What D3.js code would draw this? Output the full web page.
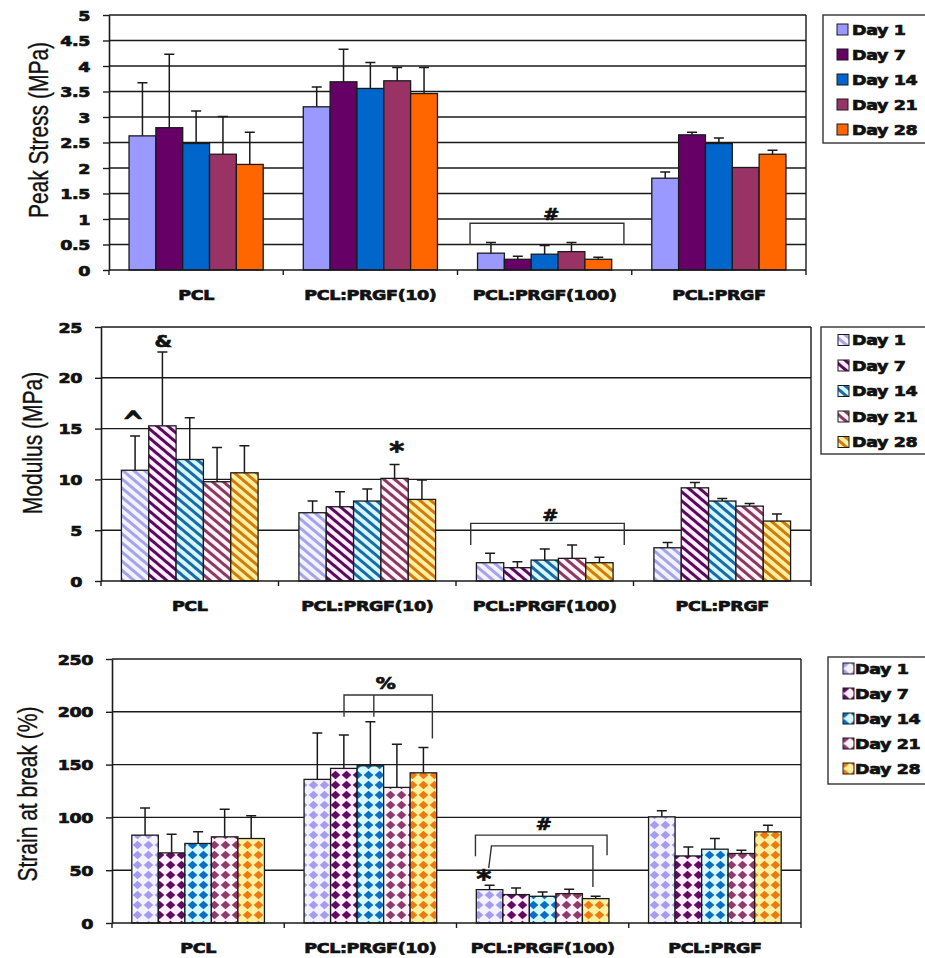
<!DOCTYPE html>
<html>
<head>
<meta charset="utf-8">
<script src="https://cdn.jsdelivr.net/npm/d3@7"></script>
<style>
  body { margin: 0; background: #fff; }
  svg { display: block; }
  .bold { font-family: 'DejaVu Sans', sans-serif; font-weight: bold; font-size: 14px; fill: #111;
          stroke: #111; stroke-width: 0.7px; letter-spacing: -0.3px; }
  .title { font-family: 'Liberation Sans', Arial, sans-serif; font-size: 21px; fill: #111;
           stroke: #111; stroke-width: 0.25px; }
</style>
</head>
<body>
<script>
// categories and series
let categories = ['PCL', 'PCL:PRGF(10)', 'PCL:PRGF(100)', 'PCL:PRGF'];
let days = ['Day 1', 'Day 7', 'Day 14', 'Day 21', 'Day 28'];
let dayColors = ['#9999ff', '#660066', '#0066cc', '#993366', '#ff6600'];
let stripeColors = ['#a4a4ea', '#5a0a5a', '#1a6aa8', '#8a3a60', '#d07a10'];
let diamondColors = ['#a49cf0', '#600a60', '#0a6ec4', '#8e3a6a', '#ec7a10'];
let tintColors = ['#f4f2ff', '#ffeeff', '#d6f8ff', '#fff2f8', '#fff0a0'];

// tick labels
let stressTicks = [0, 0.5, 1, 1.5, 2, 2.5, 3, 3.5, 4, 4.5, 5];
let modulusTicks = [0, 5, 10, 15, 20, 25];
let strainTicks = [0, 50, 100, 150, 200, 250];

// values, one row per day, one column per category
let stressMean = [[2.63, 3.20, 0.33, 1.80], [2.79, 3.69, 0.21, 2.65], [2.48, 3.56, 0.31, 2.48], [2.27, 3.71, 0.36, 2.01], [2.07, 3.46, 0.21, 2.27]];
let stressErr  = [[1.04, 0.39, 0.21, 0.12], [1.44, 0.64, 0.06, 0.05], [0.64, 0.51, 0.17, 0.11], [0.74, 0.26, 0.18, 0.00], [0.63, 0.51, 0.04, 0.08]];

let modulusMean = [[10.9, 6.72, 1.80, 3.27], [15.27, 7.31, 1.31, 9.17], [11.96, 7.87, 2.06, 7.87], [9.77, 10.1, 2.23, 7.37], [10.65, 8.03, 1.80, 5.90]];
let modulusErr  = [[3.36, 1.15, 0.92, 0.53], [7.28, 1.47, 0.59, 0.53], [4.10, 1.18, 1.09, 0.26], [3.38, 1.37, 1.31, 0.27], [2.65, 1.90, 0.53, 0.69]];

let strainMean = [[83.2, 136.0, 31.6, 100.5], [66.4, 146.4, 26.9, 63.5], [75.3, 148.9, 25.3, 69.9], [81.6, 128.4, 27.8, 65.8], [80.0, 142.2, 23.1, 86.3]];
let strainErr  = [[25.8, 44.0, 4.1, 5.7], [17.7, 31.6, 6.3, 8.5], [11.0, 41.7, 4.1, 10.1], [26.2, 40.8, 4.2, 3.2], [21.5, 24.1, 2.2, 6.3]];

// significance marks: category, fraction across category cell, value
let stressMarks = [{cat: 2, f: 0.537, v: 1.10, text: '#'}];
let stressBrackets = [{cat: 2, pts: [[0.072, 0.49], [0.072, 0.916], [0.955, 0.916], [0.955, 0.49]]}];
let modulusMarks = [
  {cat: 0, f: 0.18, v: 16.0, text: '^'},
  {cat: 0, f: 0.35, v: 23.6, text: '&'},
  {cat: 1, f: 0.666, v: 13.2, text: '*'},
  {cat: 2, f: 0.53, v: 6.5, text: '#'}
];
let modulusBrackets = [{cat: 2, pts: [[0.083, 3.54], [0.083, 5.67], [0.948, 5.67], [0.948, 3.54]]}];
let strainMarks = [
  {cat: 1, f: 0.589, v: 227.3, text: '%'},
  {cat: 2, f: 0.506, v: 93.6, text: '#'},
  {cat: 2, f: 0.158, v: 45.2, text: '*'}
];
let strainBrackets = [
  {cat: 1, pts: [[0.347, 195.3], [0.347, 215.9], [0.86, 215.9], [0.86, 174.8]]},
  {cat: 1, pts: [[0.52, 215.9], [0.52, 195.3]]},
  {cat: 2, pts: [[0.11, 63.2], [0.11, 83.2], [0.874, 83.2], [0.874, 64.2]]},
  {cat: 2, pts: [[0.187, 51.9], [0.203, 73], [0.792, 73], [0.792, 34.1]]}
];

let width = 925;
let height = 958;
let ink = '#1a1a1a';

let panels = [
  {mean: stressMean, err: stressErr, ticks: stressTicks, marks: stressMarks, brackets: stressBrackets,
   title: 'Peak Stress (MPa)', fill: 'solid',
   left: 109, right: 806, top: 15, bottom: 270, titleX: 38, titleY: 130,
   legX: 823, legY: 15, legH: 128, legFirst: 14.5, legStep: 25, swX: 14, txX: 29},
  {mean: modulusMean, err: modulusErr, ticks: modulusTicks, marks: modulusMarks, brackets: modulusBrackets,
   title: 'Modulus (MPa)', fill: 'stripe',
   left: 101, right: 811, top: 327, bottom: 581, titleX: 32, titleY: 443,
   legX: 821, legY: 327, legH: 127, legFirst: 13, legStep: 25.5, swX: 17, txX: 31},
  {mean: strainMean, err: strainErr, ticks: strainTicks, marks: strainMarks, brackets: strainBrackets,
   title: 'Strain at break (%)', fill: 'diamond',
   left: 112, right: 801, top: 659, bottom: 923, titleX: 27, titleY: 794,
   legX: 828, legY: 657, legH: 127, legFirst: 11.5, legStep: 25, swX: 15, txX: 27}
];

let svg = d3.select('body')
            .append('svg')
            .attr('width', width)
            .attr('height', height);

let defs = svg.append('defs');

// stripe and diamond fills, one per day
days.forEach((d, i) => {
    let sp = defs.append('pattern')
        .attr('id', 'stripe' + i)
        .attr('patternUnits', 'userSpaceOnUse')
        .attr('width', 7).attr('height', 7)
        .attr('patternTransform', 'rotate(40)');
    sp.append('rect').attr('width', 7).attr('height', 7).attr('fill', tintColors[i]);
    sp.append('rect').attr('width', 7).attr('height', 3).attr('fill', stripeColors[i]);

    let dp = defs.append('pattern')
        .attr('id', 'diamond' + i)
        .attr('patternUnits', 'userSpaceOnUse')
        .attr('width', 11).attr('height', 10);
    dp.append('rect').attr('width', 11).attr('height', 10).attr('fill', tintColors[i]);
    dp.append('path').attr('d', 'M5.5,0.8 L10.3,5 L5.5,9.2 L0.7,5 Z').attr('fill', diamondColors[i]);
});

let fillFor = (kind, i) => {
    if (kind == 'stripe') return 'url(#stripe' + i + ')';
    if (kind == 'diamond') return 'url(#diamond' + i + ')';
    return dayColors[i];
}

let glyphLift = {'#': 0.36, '%': 0.36, '&': 0.36, '^': 0.5, '*': 0.5};
let glyphSize = {'#': 16, '%': 16, '&': 16, '^': 30, '*': 24};
let glyphStretch = {'#': 1.2, '%': 1.25, '&': 1.25, '^': 0.9, '*': 1.2};

let drawPanel = (p) => {
    let g = svg.append('g');
    let maxV = p.ticks[p.ticks.length - 1];

    let x0 = d3.scaleBand()
                .domain(d3.range(categories.length))
                .range([p.left, p.right])
                .paddingInner(0.23)
                .paddingOuter(0.115);
    let x1 = d3.scaleBand()
                .domain(d3.range(days.length))
                .range([0, x0.bandwidth()]);
    let y = d3.scaleLinear()
                .domain([0, maxV])
                .range([p.bottom, p.top]);
    let cellX = (c, f) => p.left + (c + f) * x0.step();

    // gridlines
    g.selectAll('.grid')
        .data(p.ticks.slice(1))
        .enter()
        .append('line')
        .attr('x1', p.left).attr('x2', p.right)
        .attr('y1', d => y(d)).attr('y2', d => y(d))
        .attr('stroke', ink).attr('stroke-width', 1.4);

    // right border
    g.append('line')
        .attr('x1', p.right).attr('x2', p.right)
        .attr('y1', p.top).attr('y2', p.bottom)
        .attr('stroke', ink).attr('stroke-width', 1.4);

    // bars
    let rows = [];
    p.mean.forEach((row, d) => row.forEach((v, c) => rows.push({c: c, d: d, v: v, e: p.err[d][c]})));

    g.selectAll('.bar')
        .data(rows)
        .enter()
        .append('rect')
        .attr('x', r => x0(r.c) + x1(r.d))
        .attr('y', r => y(r.v))
        .attr('width', x1.bandwidth())
        .attr('height', r => y(0) - y(r.v))
        .attr('fill', r => fillFor(p.fill, r.d))
        .attr('stroke', ink)
        .attr('stroke-width', 1.3);

    // upper error bars
    let errRows = rows.filter(r => r.e > 0);
    let cx = r => x0(r.c) + x1(r.d) + x1.bandwidth() / 2;
    g.selectAll('.err')
        .data(errRows)
        .enter()
        .append('path')
        .attr('d', r => 'M' + cx(r) + ',' + y(r.v) + 'V' + y(r.v + r.e) + 'M' + (cx(r) - 5) + ',' + y(r.v + r.e) + 'H' + (cx(r) + 5))
        .attr('fill', 'none')
        .attr('stroke', ink)
        .attr('stroke-width', 1.5);

    // y axis
    let yAxis = d3.axisLeft(y).tickValues(p.ticks).tickFormat(d3.format('~g')).tickSize(6).tickSizeOuter(0);
    g.append('g')
        .attr('transform', 'translate(' + p.left + ',0)')
        .call(yAxis)
        .call(a => a.select('.domain').attr('stroke', ink).attr('stroke-width', 1.6))
        .call(a => a.selectAll('.tick line').attr('stroke', ink).attr('stroke-width', 1.4))
        .call(a => a.selectAll('.tick text')
                    .attr('class', 'bold')
                    .attr('x', null)
                    .attr('dy', '0.36em')
                    .attr('transform', 'translate(-19,0) scale(1.25,1)'));

    // x axis line with boundary ticks
    g.append('line')
        .attr('x1', p.left).attr('x2', p.right)
        .attr('y1', p.bottom).attr('y2', p.bottom)
        .attr('stroke', ink).attr('stroke-width', 1.6);
    g.selectAll('.xtick')
        .data(d3.range(categories.length + 1))
        .enter()
        .append('line')
        .attr('x1', i => cellX(i, 0)).attr('x2', i => cellX(i, 0))
        .attr('y1', p.bottom).attr('y2', p.bottom + 5)
        .attr('stroke', ink).attr('stroke-width', 1.4);
    g.selectAll('.xlabel')
        .data(categories)
        .enter()
        .append('text')
        .attr('class', 'bold')
        .attr('text-anchor', 'middle')
        .attr('transform', (d, i) => 'translate(' + (x0(i) + x0.bandwidth() / 2) + ',' + (p.bottom + 30) + ') scale(1.25,1)')
        .text(d => d);

    // axis title
    g.append('text')
        .attr('class', 'title')
        .attr('text-anchor', 'middle')
        .attr('dy', '0.35em')
        .attr('transform', 'translate(' + p.titleX + ',' + p.titleY + ') scale(1.35,1) rotate(-90)')
        .text(p.title);

    // brackets
    g.selectAll('.bracket')
        .data(p.brackets)
        .enter()
        .append('path')
        .attr('d', b => d3.line()(b.pts.map(pt => [cellX(b.cat, pt[0]), y(pt[1])])))
        .attr('fill', 'none')
        .attr('stroke', '#333')
        .attr('stroke-width', 1.4);

    // marks
    g.selectAll('.mark')
        .data(p.marks)
        .enter()
        .append('text')
        .attr('class', 'bold')
        .attr('text-anchor', 'middle')
        .style('font-size', m => glyphSize[m.text] + 'px')
        .attr('transform', m => 'translate(' + cellX(m.cat, m.f) + ',' + (y(m.v) + glyphLift[m.text] * glyphSize[m.text]) + ') scale(' + glyphStretch[m.text] + ',1)')
        .text(m => m.text);

    // legend
    let leg = g.append('g').attr('transform', 'translate(' + p.legX + ',' + p.legY + ')');
    leg.append('rect')
        .attr('width', 115).attr('height', p.legH)
        .attr('fill', '#fff')
        .attr('stroke', '#333').attr('stroke-width', 1.4);
    let item = leg.selectAll('.item')
        .data(days)
        .enter()
        .append('g')
        .attr('transform', (d, i) => 'translate(0,' + (p.legFirst + i * p.legStep) + ')');
    item.append('rect')
        .attr('x', p.swX).attr('y', -5.5)
        .attr('width', 11).attr('height', 11)
        .attr('fill', (d, i) => fillFor(p.fill, i))
        .attr('stroke', ink).attr('stroke-width', 1);
    item.append('text')
        .attr('class', 'bold')
        .attr('dy', '0.36em')
        .attr('transform', 'translate(' + p.txX + ',0) scale(1.25,1)')
        .text(d => d);
}

panels.forEach(drawPanel);
</script>
</body>
</html>
